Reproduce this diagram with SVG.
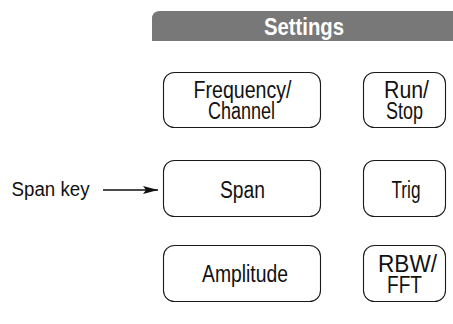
<svg xmlns="http://www.w3.org/2000/svg" width="453" height="324" viewBox="0 0 453 324">
<defs>
<style>
.key{fill:#fff;stroke:#1a1a1a;stroke-width:1.1}
.t{font-family:"Liberation Sans",Arial,sans-serif;font-size:23px;fill:#111;text-anchor:middle}
.hdr{font-family:"Liberation Sans",Arial,sans-serif;font-size:24px;font-weight:bold;fill:#fff;text-anchor:middle}
.lbl{font-family:"Liberation Sans",Arial,sans-serif;font-size:20px;fill:#111}
</style>
<marker id="ah" viewBox="0 0 15 8" refX="15" refY="4" markerWidth="15" markerHeight="8" markerUnits="userSpaceOnUse" orient="auto">
<path d="M0,0 L15,4 L0,8 L3,4 Z" fill="#111"/>
</marker>
</defs>
<rect width="453" height="324" fill="#fff"/>
<g id="settings-header">
<path d="M152,41 L152,19 Q152,11 160,11 L453,11 L453,41 Z" fill="#787878"/>
<text class="hdr" x="304" y="34.5" textLength="80" lengthAdjust="spacingAndGlyphs">Settings</text>
</g>
<g id="frequency-channel">
<rect class="key" x="163.5" y="72.5" width="157" height="55" rx="11"/>
<text class="t" x="242.5" y="98" textLength="98" lengthAdjust="spacingAndGlyphs">Frequency/</text>
<text class="t" x="241.5" y="119" textLength="67" lengthAdjust="spacingAndGlyphs">Channel</text>
</g>
<g id="run-stop">
<rect class="key" x="363.5" y="72.5" width="82" height="55" rx="11"/>
<text class="t" x="406.5" y="98" textLength="45" lengthAdjust="spacingAndGlyphs">Run/</text>
<text class="t" x="404.5" y="119" textLength="37" lengthAdjust="spacingAndGlyphs">Stop</text>
</g>
<g id="span">
<rect class="key" x="163.5" y="160.5" width="157" height="56" rx="11"/>
<text class="t" x="242.5" y="197.7" textLength="45" lengthAdjust="spacingAndGlyphs">Span</text>
</g>
<g id="trig">
<rect class="key" x="363.5" y="160.5" width="82" height="56" rx="11"/>
<text class="t" x="406" y="197.7" textLength="29" lengthAdjust="spacingAndGlyphs">Trig</text>
</g>
<g id="amplitude">
<rect class="key" x="163.5" y="245.5" width="157" height="56" rx="11"/>
<text class="t" x="245" y="282" textLength="86" lengthAdjust="spacingAndGlyphs">Amplitude</text>
</g>
<g id="rbw-fft">
<rect class="key" x="363.5" y="245.5" width="82" height="56" rx="11"/>
<text class="t" x="407.5" y="272" textLength="59" lengthAdjust="spacingAndGlyphs">RBW/</text>
<text class="t" x="404.5" y="293" textLength="35" lengthAdjust="spacingAndGlyphs">FFT</text>
</g>
<g id="span-key-label">
<text class="lbl" x="11.5" y="195.7" textLength="78" lengthAdjust="spacingAndGlyphs">Span key</text>
</g>
<g id="connectors">
<line x1="103" y1="190" x2="158" y2="190" stroke="#111" stroke-width="1.3" marker-end="url(#ah)"/>
</g>
</svg>
